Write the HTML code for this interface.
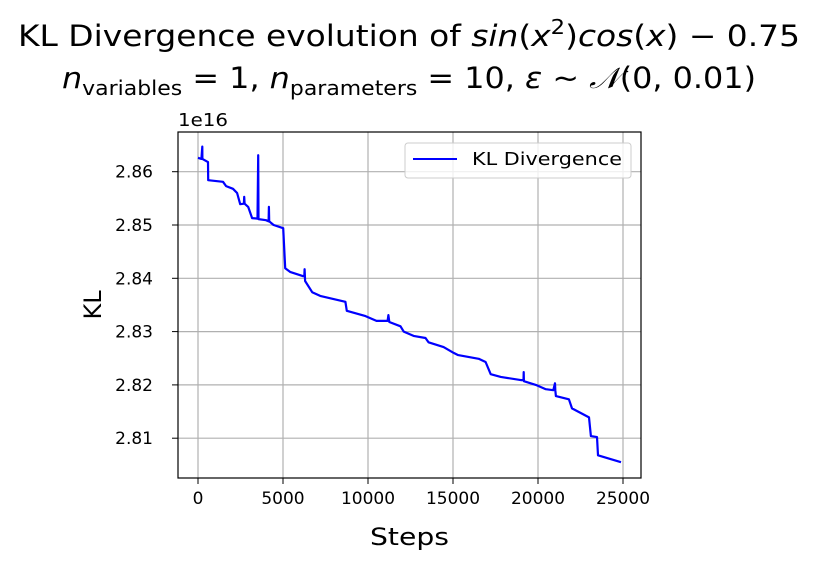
<!DOCTYPE html>
<html><head><meta charset="utf-8"><style>
body{margin:0;background:#fff}
svg text{font-family:"DejaVu Sans","Liberation Sans",sans-serif;fill:#000}
</style></head><body>
<svg id="chart" width="818" height="564" viewBox="0 0 818 564">
<rect width="818" height="564" fill="#fff"/>
<text x="18" y="46" font-size="29" textLength="782" lengthAdjust="spacingAndGlyphs">KL Divergence evolution of <tspan font-style="italic">sin</tspan>(<tspan font-style="italic">x</tspan><tspan font-size="20" dy="-12">2</tspan><tspan dy="12">)</tspan><tspan font-style="italic">cos</tspan>(<tspan font-style="italic">x</tspan>) − 0.75</text>
<text x="62" y="88" font-size="29" textLength="694" lengthAdjust="spacingAndGlyphs"><tspan font-style="italic">n</tspan><tspan font-size="20" dy="7">variables</tspan><tspan dy="-7"> = 1, </tspan><tspan font-style="italic">n</tspan><tspan font-size="20" dy="7">parameters</tspan><tspan dy="-7"> = 10, </tspan><tspan font-style="italic">ε</tspan> ~ <tspan font-style="italic">𝒩</tspan>(0, 0.01)</text>
<g id="grid"></g>
<g id="series"></g>
<rect x="178" y="132" width="463" height="346" fill="none" stroke="#000" stroke-width="1.2"/>
<g id="ticks"></g>
<text x="178" y="126" font-size="18" textLength="50" lengthAdjust="spacingAndGlyphs">1e16</text>
<text x="370" y="545" font-size="24" textLength="79" lengthAdjust="spacingAndGlyphs">Steps</text>
<text transform="translate(101,305) rotate(-90)" font-size="24" text-anchor="middle">KL</text>
<g>
<rect x="405" y="143" width="226" height="35" rx="3" fill="#fff" fill-opacity="0.8" stroke="#ccc"/>
<line x1="413" y1="159" x2="457" y2="159" stroke="#00f" stroke-width="2"/>
<text x="472" y="165" font-size="18" textLength="150" lengthAdjust="spacingAndGlyphs">KL Divergence</text>
</g>
</svg>
<script>
const steps=[0,200,250,260,590,600,1470,1650,2060,2300,2480,2700,2720,2740,2950,3180,3500,3540,3560,4000,4150,4170,4190,4450,5010,5130,5420,6190,6250,6270,6290,6300,6720,7190,8670,8750,9850,10500,11150,11200,11250,11910,12100,12680,13380,13560,14450,15040,15300,16510,16920,17220,17810,18990,19150,19160,19170,19870,20460,20900,21000,21020,21050,21820,22000,23000,23110,23470,23530,24880];
const values=[2.8626,2.8624,2.8647,2.8624,2.8618,2.8584,2.8581,2.8573,2.8568,2.8560,2.8539,2.8540,2.8553,2.8540,2.8534,2.8513,2.8512,2.8631,2.8511,2.8509,2.8507,2.8534,2.8507,2.8500,2.8494,2.8419,2.8412,2.8404,2.8404,2.8417,2.8404,2.8395,2.8374,2.8367,2.8356,2.8339,2.8329,2.8320,2.8320,2.8331,2.8318,2.8310,2.8300,2.8292,2.8288,2.8280,2.8271,2.8260,2.8256,2.8249,2.8243,2.8220,2.8215,2.8209,2.8209,2.8224,2.8207,2.8200,2.8192,2.8190,2.8203,2.8190,2.8179,2.8173,2.8156,2.8139,2.8104,2.8102,2.8068,2.8055];
const xTicks=[0,5000,10000,15000,20000,25000];
const yTicks=[2.81,2.82,2.83,2.84,2.85,2.86];
const NS="http://www.w3.org/2000/svg";
const X=s=>198+s*(85/5000);
const Y=v=>171.7+(2.86-v)*5330;
const grid=document.getElementById('grid'),ticks=document.getElementById('ticks'),ser=document.getElementById('series');
function mk(tag,at,parent){const e=document.createElementNS(NS,tag);for(const k in at)e.setAttribute(k,at[k]);parent.appendChild(e);return e;}
xTicks.forEach(t=>{
 const g=mk('line',{x1:X(t),x2:X(t),y1:132,y2:478,stroke:'#b0b0b0','stroke-width':1.2},grid);
 
 
 const tk=mk('line',{x1:X(t),x2:X(t),y1:478,y2:484,stroke:'#000'},ticks);
 
 
 const tx=mk('text',{x:X(t),y:504,'font-size':17,'text-anchor':'middle'},ticks);
 tx.textContent=t;
 
 
});
yTicks.forEach(t=>{
 const g=mk('line',{x1:178,x2:641,y1:Y(t),y2:Y(t),stroke:'#b0b0b0','stroke-width':1.2},grid);
 
 
 const tk=mk('line',{x1:172,x2:178,y1:Y(t),y2:Y(t),stroke:'#000'},ticks);
 
 
 const tx=mk('text',{x:153,y:Y(t)+6,'font-size':17,'text-anchor':'end'},ticks);
 tx.textContent=t.toFixed(2);
 
 
});
let d='';
steps.forEach((s,i)=>{d+=(i?' L':'M')+X(s).toFixed(1)+','+Y(values[i]).toFixed(1);});
const p=mk('path',{d:d,fill:'none',stroke:'#00f','stroke-width':2.2,'stroke-linejoin':'round'},ser);


</script>
</body></html>
